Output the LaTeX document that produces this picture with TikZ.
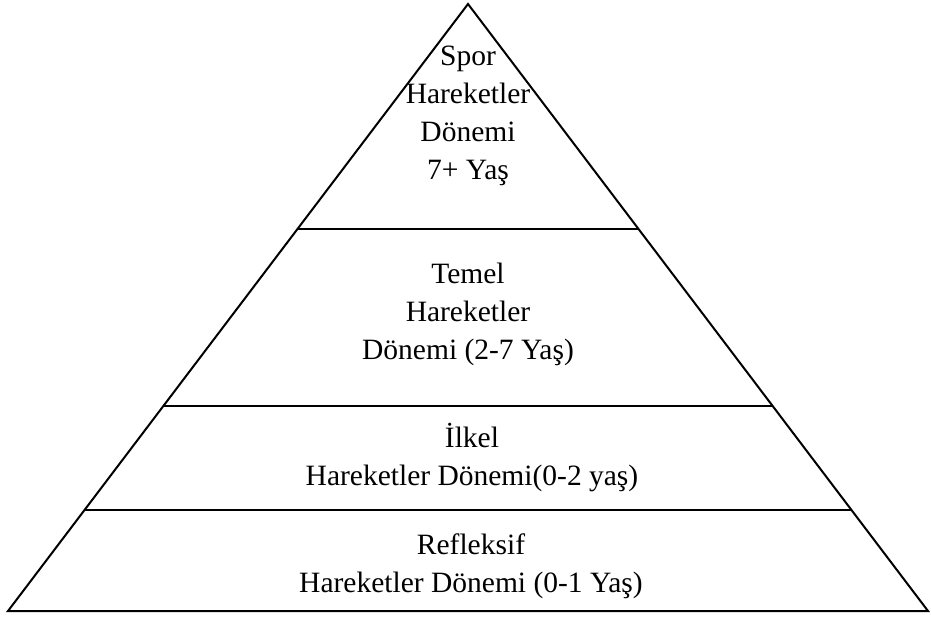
\documentclass[tikz,border=0pt]{standalone}
\usepackage{fontspec}
\setmainfont{Liberation Serif}
\usetikzlibrary{calc}
\begin{document}
\begin{tikzpicture}[x=1pt,y=-1pt,line width=2pt,
        tier/.style={align=center,font=\fontsize{29.5}{38}\selectfont}]
        \useasboundingbox (0,0) rectangle (931,617);
        \coordinate (ap) at (468,4);
        \coordinate (bl) at (8,611);
        \coordinate (br) at (928,611);
        \draw (bl)--(ap)--(br)--cycle;
        % tier borders
        \draw ($(bl)!.6293!(ap)$)--($(br)!.6293!(ap)$);
        \draw ($(bl)!.3377!(ap)$)--($(br)!.3377!(ap)$);
        \draw ($(bl)!.1664!(ap)$)--($(br)!.1664!(ap)$);
        % texts
        \node[tier] (spor) at (468,116) {Spor\\Hareketler\\Dönemi\\7+ Yaş};
        \node[tier] (temel) at (468,314) {Temel\\Hareketler\\Dönemi (2-7 Yaş)};
        \node[tier] (ilkel) at (472,458) {İlkel\\Hareketler Dönemi(0-2 yaş)};
        \node[tier] (refleks) at (471,566) {Refleksif\\Hareketler Dönemi (0-1 Yaş)};
\end{tikzpicture}
\end{document}
